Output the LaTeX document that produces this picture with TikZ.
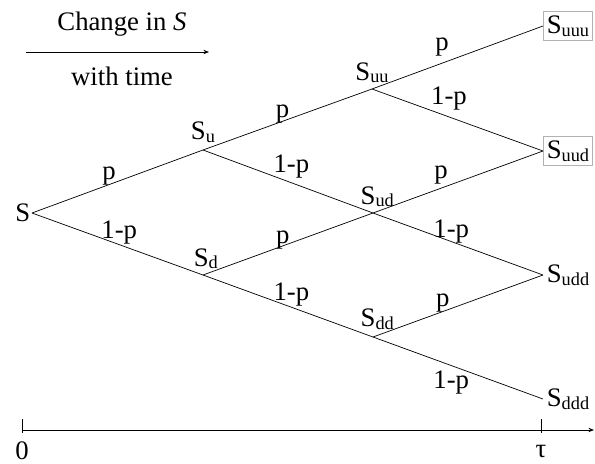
\documentclass[tikz,border=0pt]{standalone}
\usepackage{fontspec}
\setmainfont{Liberation Serif}
\usetikzlibrary{arrows.meta,positioning}
\newcommand{\Sx}[1]{S\raisebox{-2pt}{\fontsize{13}{13}\selectfont #1}}

\begin{document}
\begin{tikzpicture}[
  x=0.025cm,y=-0.025cm,
  font=\fontsize{19}{22}\selectfont,
  line width=0.5pt,
  >={Stealth[length=1.4mm,width=1.1mm]},
  state/.style={inner sep=0pt},
  final/.style={anchor=west,inner xsep=2.5pt,inner ysep=3pt},
  boxed/.style={final,draw=black!30,line width=0.4pt},
  prob/.style={anchor=base,inner sep=0pt},
  probb/.style={anchor=north,inner sep=0pt}
]
\useasboundingbox (0,0) rectangle (595,463);

% heading
\node (chg) at (122,24) {Change in \textit{S}};
\node (wt) at (122,76) {with time};
\coordinate (a0) at (26,52);
\coordinate (a1) at (209,52);
\draw[->] (a0) -- (a1);

% lattice points
\node[anchor=east,inner sep=1pt] (S) at (32,213) {S};
\coordinate (u) at (203,150);
\coordinate (d) at (203,275);
\coordinate (uu) at (372,89);
\coordinate (ud) at (373,213);
\coordinate (dd) at (373,337);
\node[boxed] (uuu) at (543,26) {\Sx{uuu}};
\node[boxed] (uud) at (543,151) {\Sx{uud}};
\node[final] (udd) at (543,275) {\Sx{udd}};
\node[final] (ddd) at (543,399) {\Sx{ddd}};

\node[state,above=5pt of u] (lu) {\Sx{u}};
\node[state,above=4pt of d,xshift=2pt] (ld) {\Sx{d}};
\node[state,above=4pt of uu] (luu) {\Sx{uu}};
\node[state,above=4pt of ud,xshift=3pt] (lud) {\Sx{ud}};
\node[state,above=5pt of dd,xshift=3pt] (ldd) {\Sx{dd}};

% branches
\draw (S.east) -- node[prob,pos=.45,yshift=3.5pt]{p} (u);
\draw (S.east) -- node[prob,pos=.51,yshift=4.3pt]{1-p} (d);
\draw (u) -- node[prob,pos=.47,yshift=2.8pt]{p} (uu);
\draw (u) -- node[prob,pos=.52,yshift=7pt]{1-p} (ud);
\draw (d) -- node[prob,pos=.47,yshift=1.4pt]{p} (ud);
\draw (d) -- node[prob,pos=.52,yshift=5pt]{1-p} (dd);
\draw (uu) -- node[prob,pos=.41,yshift=9pt]{p} (uuu.west);
\draw (uu) -- node[prob,pos=.45,yshift=8.5pt]{1-p} (uud.west);
\draw (ud) -- node[prob,pos=.40,yshift=7pt]{p} (uud.west);
\draw (ud) -- node[prob,pos=.46,yshift=2.8pt]{1-p} (udd.west);
\draw (dd) -- node[prob,pos=.41,yshift=3.5pt]{p} (udd.west);
\draw (dd) -- node[probb,pos=.46,yshift=-3.5pt]{1-p} (ddd.west);

% time axis
\coordinate (t0) at (22,430);
\coordinate (t1) at (594,430);
\draw[->] (t0) -- (t1);
\draw (22,419) -- (22,433);
\draw (541,419) -- (541,433);
\node[anchor=base] (zero) at (22,459) {0};
\node[anchor=base] (tau) at (541,457) {τ};
\end{tikzpicture}
\end{document}
